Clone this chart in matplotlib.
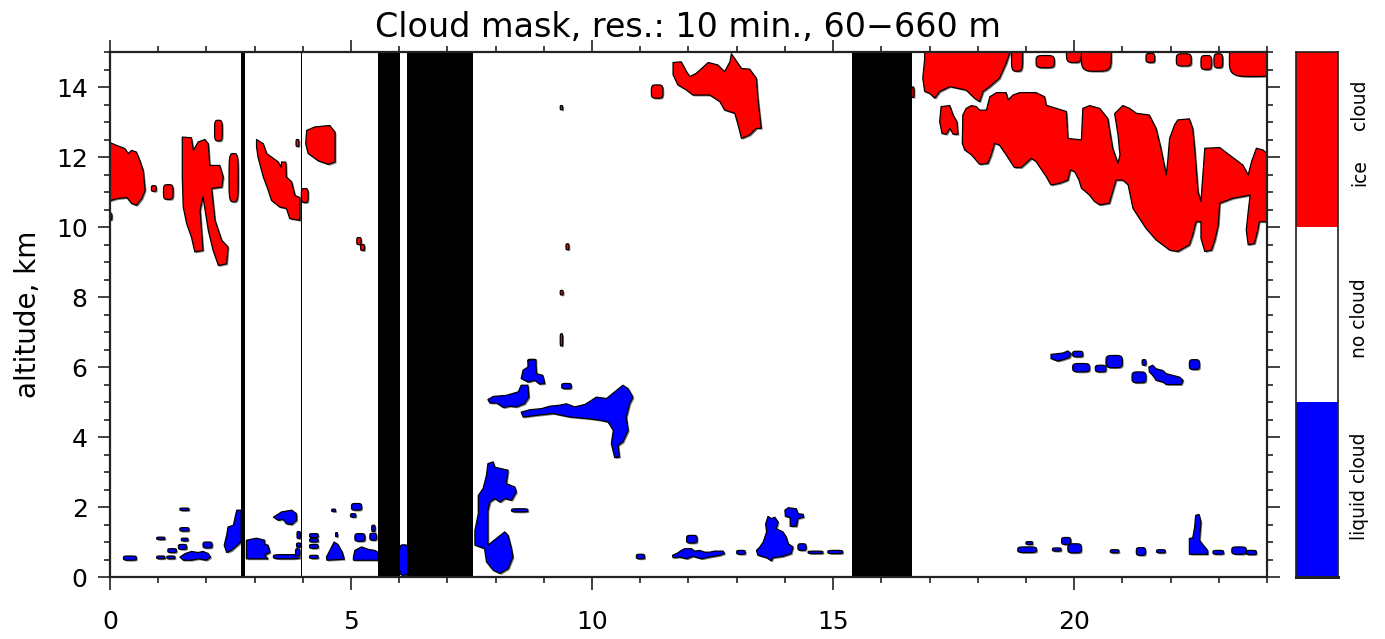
import numpy as np
import matplotlib
matplotlib.use("Agg")
import matplotlib.pyplot as plt
from matplotlib.patches import Polygon
import matplotlib.patheffects as pe

# ---------------- data (time in hours, altitude in km) ----------------
title = "Cloud mask, res.: 10 min., 60\u2212660 m"
ylabel = "altitude, km"
class_labels = ["liquid cloud", "no cloud", "ice", "cloud"]
class_colors = ["#0000ff", "#ffffff", "#ff0000"]

# periods without data (black bands)
missing_start = [2.72, 3.955, 5.57, 6.17, 15.40]
missing_end = [2.81, 3.975, 6.02, 7.53, 16.63]

# ice cloud outlines
ice_A = [(-0.1, 12.47), (0.14, 12.33), (0.31, 12.24), (0.38, 12.1), (0.45, 12.19), (0.55, 12.14),
         (0.62, 11.9), (0.69, 11.62), (0.73, 11.05), (0.66, 10.81), (0.55, 10.62), (0.45, 10.67),
         (0.35, 10.84), (0.14, 10.81), (-0.1, 10.71)]
ice_B = [(1.5, 12.57), (1.69, 12.55), (1.73, 12.19), (1.83, 12.43), (1.97, 12.5), (2.04, 12.38),
         (2.07, 11.76), (2.28, 11.76), (2.35, 11.43), (2.32, 11.14), (2.11, 11.1), (2.18, 10.19),
         (2.32, 9.62), (2.45, 9.43), (2.42, 8.95), (2.25, 8.9), (2.14, 9.33), (2.04, 9.9),
         (1.93, 10.86), (1.87, 10.48), (1.9, 9.9), (1.93, 9.33), (1.76, 9.29), (1.69, 9.71),
         (1.59, 10.1), (1.52, 10.57), (1.5, 11.43)]
ice_C = [(3.04, 12.5), (3.18, 12.38), (3.25, 12.1), (3.49, 11.86), (3.55, 11.71), (3.56, 11.86),
         (3.65, 11.85), (3.66, 11.43), (3.77, 11.29), (3.84, 10.9), (3.94, 10.84), (3.94, 10.19),
         (3.73, 10.24), (3.66, 10.53), (3.52, 10.57), (3.35, 10.76), (3.27, 11.1), (3.18, 11.43),
         (3.07, 12.0), (3.04, 12.29)]
ice_D = [(4.08, 12.76), (4.25, 12.86), (4.56, 12.9), (4.67, 12.71), (4.67, 11.86), (4.53, 11.79),
         (4.32, 11.89), (4.11, 12.1), (4.06, 12.38)]
ice_E = [(11.68, 14.7), (11.85, 14.72), (11.96, 14.44), (12.03, 14.3), (12.16, 14.39), (12.41, 14.7),
         (12.61, 14.63), (12.75, 14.44), (12.86, 14.72), (12.89, 14.95), (12.96, 14.81), (13.1, 14.53),
         (13.27, 14.51), (13.41, 14.25), (13.44, 13.68), (13.51, 12.82), (13.41, 12.82), (13.27, 12.63),
         (13.1, 12.53), (13.03, 12.91), (12.96, 13.25), (12.75, 13.34), (12.65, 13.58), (12.44, 13.77),
         (12.09, 13.77), (11.96, 13.91), (11.78, 14.06), (11.68, 14.35)]
ice_F = [(16.9, 15.2), (18.66, 15.2), (18.66, 14.96), (18.59, 14.68), (18.45, 14.25), (18.25, 14.01),
         (18.11, 13.87), (18.04, 13.58), (17.93, 13.68), (17.76, 13.91), (17.42, 14.01), (17.21, 13.87),
         (17.11, 13.68), (17.0, 13.82), (16.9, 13.87), (16.86, 14.25), (16.9, 14.81)]
ice_G1 = [(17.24, 13.44), (17.42, 13.47), (17.49, 13.2), (17.57, 13.01), (17.59, 12.65), (17.49, 12.65),
          (17.42, 12.82), (17.35, 12.65), (17.26, 12.67), (17.21, 13.01)]
ice_G = [(17.76, 13.39), (17.87, 13.47), (17.97, 13.44), (18.04, 13.34), (18.18, 13.34), (18.25, 13.72),
         (18.39, 13.84), (18.59, 13.84), (18.63, 13.63), (18.73, 13.77), (18.87, 13.84), (19.21, 13.84),
         (19.39, 13.72), (19.42, 13.48), (19.63, 13.39), (19.84, 13.3), (19.87, 12.53), (20.15, 12.49),
         (20.18, 13.39), (20.32, 13.47), (20.53, 13.39), (20.7, 13.1), (20.72, 12.91), (20.8, 12.25),
         (20.91, 11.82), (20.95, 12.06), (20.91, 12.63), (20.84, 13.24), (21.01, 13.47), (21.15, 13.39),
         (21.29, 13.25), (21.56, 13.2), (21.7, 12.82), (21.8, 12.25), (21.91, 11.49), (21.94, 11.87),
         (21.98, 12.53), (22.08, 12.91), (22.15, 13.06), (22.39, 13.09), (22.46, 12.82), (22.5, 12.25),
         (22.57, 11.01), (22.63, 10.73), (22.71, 12.25), (23.02, 12.27), (23.22, 12.06), (23.5, 11.77),
         (23.61, 11.49), (23.68, 11.87), (23.78, 12.25), (23.92, 12.2), (24.1, 11.96), (24.1, 10.15),
         (23.84, 10.15), (23.81, 9.91), (23.74, 9.53), (23.61, 9.49), (23.57, 9.91), (23.61, 10.44),
         (23.65, 10.91), (23.29, 10.82), (23.02, 10.68), (22.99, 10.06), (22.92, 9.63), (22.85, 9.34),
         (22.71, 9.3), (22.63, 9.68), (22.63, 10.15), (22.53, 10.15), (22.46, 9.77), (22.39, 9.49),
         (22.15, 9.3), (21.98, 9.34), (21.7, 9.63), (21.49, 9.96), (21.22, 10.53), (21.12, 11.2),
         (21.01, 11.34), (20.87, 11.34), (20.73, 10.68), (20.53, 10.63), (20.42, 10.73), (20.32, 10.91),
         (20.15, 11.11), (20.1, 11.34), (20.01, 11.58), (19.92, 11.63), (19.87, 11.34), (19.7, 11.25),
         (19.52, 11.2), (19.42, 11.44), (19.35, 11.58), (19.21, 11.87), (19.11, 11.96), (19.0, 11.82),
         (18.9, 11.7), (18.76, 11.7), (18.59, 12.06), (18.45, 12.34), (18.35, 12.39), (18.28, 12.06),
         (18.21, 11.82), (18.04, 11.79), (17.87, 12.06), (17.73, 12.2), (17.68, 12.39), (17.69, 13.2)]
ice_polygons = [ice_A, ice_B, ice_C, ice_D, ice_E, ice_F, ice_G1, ice_G]

# small ice patches: (t0, t1, z0, z1)
ice_boxes = [(0.86, 0.96, 11.02, 11.18), (1.11, 1.31, 10.79, 11.21), (2.17, 2.33, 12.46, 13.05),
             (2.47, 2.66, 10.72, 12.1), (3.86, 3.92, 12.3, 12.5), (3.97, 4.11, 10.7, 11.1),
             (5.12, 5.21, 9.5, 9.7), (5.2, 5.28, 9.33, 9.5), (11.23, 11.47, 13.68, 14.06),
             (9.34, 9.39, 13.35, 13.47), (9.46, 9.52, 9.35, 9.52), (9.34, 9.4, 8.06, 8.19),
             (9.34, 9.39, 6.6, 6.95), (18.7, 18.93, 14.45, 15.3), (19.21, 19.59, 14.55, 14.9),
             (19.84, 20.15, 14.7, 15.3), (20.15, 20.77, 14.45, 15.3), (21.49, 21.67, 14.7, 14.96),
             (22.12, 22.43, 14.6, 14.95), (22.63, 22.85, 14.5, 14.9), (22.9, 23.08, 14.55, 14.95),
             (23.22, 24.2, 14.3, 15.3), (16.63, 16.68, 13.7, 14.0), (8.67, 8.84, 6.12, 6.22),
             (-0.05, 0.04, 10.2, 10.4)]

# liquid cloud outlines
liq_H1 = [(8.67, 6.19), (8.83, 6.21), (8.85, 5.81), (8.98, 5.76), (9.02, 5.53), (8.91, 5.51),
          (8.81, 5.62), (8.67, 5.57), (8.53, 5.67), (8.57, 5.91), (8.67, 6.0)]
liq_H2 = [(7.84, 5.07), (7.95, 5.16), (8.22, 5.19), (8.47, 5.29), (8.53, 5.48), (8.67, 5.48),
          (8.69, 5.14), (8.6, 4.95), (8.43, 4.86), (8.29, 4.88), (8.16, 4.84), (8.02, 4.97), (7.88, 4.97)]
liq_H4 = [(8.53, 4.71), (8.71, 4.78), (8.95, 4.81), (9.12, 4.88), (9.33, 4.91), (9.47, 4.95),
          (9.64, 4.86), (9.85, 4.93), (9.99, 5.05), (10.09, 5.14), (10.3, 5.1), (10.47, 5.29),
          (10.64, 5.48), (10.75, 5.38), (10.85, 5.14), (10.78, 4.95), (10.71, 4.57), (10.75, 4.19),
          (10.64, 3.86), (10.54, 3.76), (10.57, 3.43), (10.47, 3.41), (10.4, 3.81), (10.44, 4.19),
          (10.33, 4.43), (10.16, 4.48), (9.95, 4.52), (9.54, 4.57), (9.19, 4.67), (8.85, 4.62), (8.57, 4.57)]
liq_I = [(7.84, 3.24), (7.95, 3.29), (7.98, 3.14), (8.26, 3.05), (8.22, 2.67), (8.4, 2.57),
         (8.43, 2.43), (8.33, 2.19), (8.19, 2.24), (8.09, 2.14), (7.98, 2.24), (7.88, 2.14),
         (7.84, 1.9), (7.84, 0.91), (8.05, 1.14), (8.19, 1.29), (8.26, 1.19), (8.33, 0.81),
         (8.36, 0.57), (8.26, 0.24), (8.09, 0.1), (7.95, 0.19), (7.81, 0.43), (7.77, 0.81),
         (7.57, 0.91), (7.57, 1.33), (7.64, 1.81), (7.64, 2.33), (7.74, 2.53), (7.81, 2.91)]
liq_J = [(2.63, 1.91), (2.72, 1.91), (2.72, 1.0), (2.52, 0.76), (2.42, 0.7), (2.37, 0.91),
         (2.42, 1.19), (2.45, 1.43), (2.56, 1.48), (2.59, 1.67)]
liq_K = [(2.83, 1.05), (3.04, 1.11), (3.21, 1.05), (3.21, 0.93), (3.28, 0.91), (3.32, 0.71),
         (3.21, 0.62), (3.28, 0.52), (2.83, 0.52)]
liq_L = [(3.39, 1.71), (3.56, 1.86), (3.77, 1.91), (3.87, 1.81), (3.87, 1.62), (3.77, 1.5),
         (3.66, 1.52), (3.59, 1.65), (3.49, 1.62)]
liq_M = [(4.49, 0.57), (4.56, 0.76), (4.65, 1.0), (4.73, 0.93), (4.82, 0.71), (4.86, 0.51), (4.5, 0.48)]
liq_N = [(5.05, 0.57), (5.08, 0.76), (5.22, 0.86), (5.36, 0.79), (5.49, 0.76), (5.56, 0.71),
         (5.56, 0.48), (5.05, 0.48)]
liq_S = [(1.45, 0.57), (1.56, 0.67), (1.69, 0.73), (1.83, 0.7), (1.93, 0.73), (2.04, 0.67),
         (2.09, 0.57), (2.0, 0.48), (1.83, 0.52), (1.69, 0.48), (1.52, 0.48)]
liq_T = [(11.67, 0.62), (11.78, 0.69), (11.85, 0.76), (11.92, 0.81), (12.06, 0.81), (12.13, 0.74),
         (12.23, 0.76), (12.34, 0.71), (12.44, 0.71), (12.54, 0.74), (12.72, 0.74), (12.75, 0.67),
         (12.65, 0.62), (12.44, 0.57), (12.27, 0.52), (12.09, 0.59), (11.96, 0.52), (11.82, 0.57),
         (11.68, 0.55)]
liq_O = [(13.41, 0.76), (13.48, 0.86), (13.55, 1.0), (13.62, 1.29), (13.6, 1.52), (13.65, 1.73),
         (13.72, 1.67), (13.79, 1.71), (13.86, 1.57), (13.82, 1.38), (13.96, 1.29), (14.03, 1.14),
         (14.07, 0.95), (14.17, 0.86), (14.13, 0.67), (13.96, 0.59), (13.75, 0.55), (13.72, 0.46),
         (13.62, 0.55), (13.44, 0.62)]
liq_P = [(14.0, 1.91), (14.07, 1.98), (14.24, 1.95), (14.27, 1.81), (14.38, 1.79), (14.39, 1.71),
         (14.27, 1.67), (14.24, 1.45), (14.11, 1.45), (14.11, 1.7), (14.01, 1.73)]
liq_Q1 = [(19.52, 6.36), (19.77, 6.4), (19.87, 6.46), (19.94, 6.38), (19.9, 6.27), (19.77, 6.21),
          (19.66, 6.17), (19.52, 6.24)]
liq_Q8 = [(21.55, 6.0), (21.63, 6.05), (21.7, 5.95), (21.84, 5.9), (21.91, 5.81), (22.05, 5.76),
          (22.19, 5.71), (22.26, 5.62), (22.22, 5.5), (21.91, 5.5), (21.84, 5.57), (21.7, 5.62),
          (21.63, 5.76), (21.56, 5.86)]
liq_R = [(22.39, 1.1), (22.46, 1.12), (22.5, 1.43), (22.52, 1.76), (22.59, 1.79), (22.63, 1.57),
         (22.61, 1.24), (22.6, 1.05), (22.68, 0.91), (22.77, 0.76), (22.77, 0.65), (22.39, 0.65)]
liquid_polygons = [liq_H1, liq_H2, liq_H4, liq_I, liq_J, liq_K, liq_L, liq_M, liq_N, liq_S,
                   liq_T, liq_O, liq_P, liq_Q1, liq_Q8, liq_R]

liquid_boxes = [(0.28, 0.55, 0.48, 0.6), (1.45, 1.64, 1.9, 1.97), (0.97, 1.14, 1.07, 1.14),
                (0.97, 1.14, 0.52, 0.6), (1.18, 1.35, 0.52, 0.6), (1.45, 1.64, 1.31, 1.41),
                (1.48, 1.62, 1.03, 1.11), (1.42, 1.59, 0.79, 0.93), (1.2, 1.38, 0.7, 0.81),
                (1.93, 2.12, 0.83, 1.0), (3.39, 3.94, 0.52, 0.64), (3.85, 3.94, 0.6, 0.81),
                (3.87, 3.96, 0.85, 0.97), (3.88, 3.95, 1.1, 1.3),
                (4.14, 4.32, 1.13, 1.24), (4.14, 4.32, 1.0, 1.1), (4.14, 4.32, 0.82, 0.93),
                (4.14, 4.32, 0.53, 0.62), (4.6, 4.68, 1.87, 1.94), (4.68, 4.72, 1.15, 1.27),
                (5.01, 5.22, 1.91, 2.1), (4.99, 5.1, 1.71, 1.81), (5.08, 5.29, 1.02, 1.24),
                (5.39, 5.53, 1.05, 1.25), (5.43, 5.5, 1.3, 1.48), (6.0, 6.19, 0.05, 0.92),
                (9.37, 9.57, 5.38, 5.53), (8.33, 8.67, 1.86, 1.95), (10.92, 11.09, 0.52, 0.65),
                (11.96, 12.18, 0.97, 1.19), (13.0, 13.18, 0.65, 0.76), (14.27, 14.44, 0.76, 0.95),
                (14.48, 14.79, 0.67, 0.74), (14.89, 15.2, 0.67, 0.76),
                (19.97, 20.18, 6.29, 6.45), (19.97, 20.32, 5.86, 6.1), (20.44, 20.66, 5.86, 6.05),
                (20.66, 21.0, 5.98, 6.33), (21.41, 21.49, 6.05, 6.21), (21.2, 21.49, 5.55, 5.86),
                (22.39, 22.6, 5.93, 6.21), (18.83, 19.22, 0.7, 0.86), (19.0, 19.14, 0.93, 1.01),
                (19.55, 19.73, 0.74, 0.83), (19.74, 19.93, 0.93, 1.13), (19.87, 20.15, 0.69, 0.95),
                (20.75, 20.93, 0.69, 0.78), (21.29, 21.48, 0.62, 0.84), (21.71, 21.89, 0.69, 0.78),
                (22.88, 23.1, 0.65, 0.76), (23.27, 23.57, 0.65, 0.86), (23.57, 23.78, 0.64, 0.76)]

x_major = [0, 5, 10, 15, 20]
y_major = [0, 2, 4, 6, 8, 10, 12, 14]


def rounded_box(t0, t1, z0, z1, p=4.0, n=40):
    cx, cz = (t0 + t1) / 2, (z0 + z1) / 2
    a, b = (t1 - t0) / 2, (z1 - z0) / 2
    th = np.linspace(0, 2 * np.pi, n, endpoint=False)
    c, s = np.cos(th), np.sin(th)
    xs = cx + a * np.sign(c) * np.abs(c) ** (2 / p)
    zs = cz + b * np.sign(s) * np.abs(s) ** (2 / p)
    return np.column_stack([xs, zs])


# ---------------- figure ----------------
plt.rcParams['font.family'] = ['DejaVu Sans']
fig = plt.figure(figsize=(13.85, 6.39), dpi=100)
ax = fig.add_axes([0.0794, 0.097, 0.8354, 0.8216])

shadow = [pe.SimplePatchShadow(offset=(1.0, -1.0), shadow_rgbFace='0.45', alpha=0.9), pe.Normal()]


def add_shape(pts, color):
    poly = Polygon(pts, closed=True, facecolor=color, edgecolor='black', linewidth=0.9,
                   joinstyle='round', zorder=2)
    poly.set_path_effects(shadow)
    ax.add_patch(poly)


for pts in ice_polygons:
    add_shape(pts, class_colors[2])
for bx in ice_boxes:
    add_shape(rounded_box(*bx), class_colors[2])
for pts in liquid_polygons:
    add_shape(pts, class_colors[0])
for bx in liquid_boxes:
    add_shape(rounded_box(*bx), class_colors[0])

for s, e in zip(missing_start, missing_end):
    ax.axvspan(s, e, color='black', lw=0, zorder=3)

ax.set_xlim(0, 24)
ax.set_ylim(0, 15)
ax.set_xticks(x_major)
ax.set_xticks(np.arange(0, 25, 1), minor=True)
ax.set_yticks(y_major)
ax.set_yticks(np.arange(0, 15.01, 0.5), minor=True)
ax.tick_params(which='both', direction='out', top=True, right=True, color='#222222',
               labelsize=18, width=1.2)
ax.tick_params(which='major', length=9)
ax.tick_params(which='minor', length=4.5)
ax.tick_params(axis='x', which='major', pad=15)
ax.tick_params(axis='y', which='major', pad=7)
for sp in ax.spines.values():
    sp.set_color('#222222')
    sp.set_linewidth(1.6)
    sp.set_zorder(5)
ax.set_title(title, fontsize=24, pad=11)
ax.set_ylabel(ylabel, fontsize=20, labelpad=10)

# colour bar
cax = fig.add_axes([0.9357, 0.097, 0.0303, 0.8216])
for i, col in enumerate(class_colors):
    cax.axhspan(i, i + 1, color=col, lw=0)
cax.set_xlim(0, 1)
cax.set_ylim(0, 3)
cax.set_xticks([])
cax.set_yticks([])
for sp in cax.spines.values():
    sp.set_color('#222222')
    sp.set_linewidth(1.2)
cax.spines['bottom'].set_linewidth(2.2)
cb_x = 1.52
cax.text(cb_x, 0.52, class_labels[0], rotation=90, ha='center', va='center',
         fontsize=13.5, transform=cax.transData)
cax.text(cb_x, 1.48, class_labels[1], rotation=90, ha='center', va='center',
         fontsize=13.5, transform=cax.transData)
cax.text(cb_x, 2.31, class_labels[2], rotation=90, ha='center', va='center',
         fontsize=13.5, transform=cax.transData)
cax.text(cb_x, 2.70, class_labels[3], rotation=90, ha='center', va='center',
         fontsize=13.5, transform=cax.transData)

fig.savefig("out.png", dpi=100)
